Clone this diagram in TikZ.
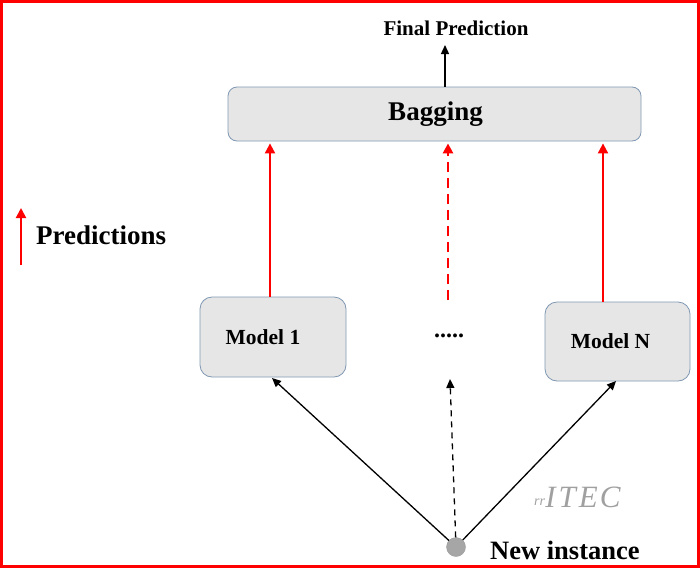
\documentclass[tikz,border=0pt]{standalone}
\usepackage{fontspec}
\setmainfont{Liberation Serif}
\usetikzlibrary{arrows.meta,calc}
\definecolor{boxfill}{HTML}{E7E6E6}
\definecolor{boxline}{HTML}{7F97B2}
\definecolor{dotgrey}{HTML}{A6A6A6}
\definecolor{wmgrey}{HTML}{A0A0A0}
\tikzset{
  modelbox/.style={draw=boxline, fill=boxfill, line width=0.8pt, rounded corners=12pt, font=\bfseries\fontsize{21.5}{25}\selectfont},
  predarrow/.style={draw=red, line width=2pt, -{Triangle[width=10pt,length=10pt]}},
  inarrow/.style={draw=black, line width=1.3pt, -{Triangle[width=8pt,length=9pt]}},
  bigtext/.style={font=\bfseries\fontsize{27}{30}\selectfont},
}
\begin{document}
\begin{tikzpicture}[x=1pt,y=-1pt]
\useasboundingbox (0,0) rectangle (700,568);
\draw[red, line width=2.5pt] (1.25,1.25) rectangle (698.5,566.5);

% boxes
\node[modelbox, rounded corners=9pt, minimum width=413pt, minimum height=54pt, inner sep=0pt, font=\bfseries\fontsize{27}{30}\selectfont] (bag) at (434.5,114) {\kern2pt Bagging};
\node[modelbox, minimum width=146pt, minimum height=80pt, inner sep=0pt] (m1) at (273,337) {Model 1\kern20pt};
\node[modelbox, minimum width=145pt, minimum height=79pt, inner sep=0pt] (mN) at (617.5,341.5) {Model N\kern14pt};
\node[font=\bfseries\fontsize{24}{25}\selectfont, inner sep=0pt] (dots) at (449,336) {.....};

% final prediction
\node[font=\bfseries\fontsize{21}{24}\selectfont, inner sep=0pt] (fp) at (456,28) {Final Prediction};
\coordinate (fpx) at (445,45);
\draw[inarrow] (bag.north -| fpx) -- (fpx);

% prediction arrows
\coordinate (p1) at (270,297);
\coordinate (p2) at (448,300);
\coordinate (p3) at (603,302);
\draw[predarrow, shorten >=2pt] (p1) -- (bag.south -| p1);
\draw[predarrow, line width=2.5pt, dash pattern=on 10pt off 6pt, shorten >=2pt] (p2) -- (bag.south -| p2);
\draw[predarrow, shorten >=2pt] (p3) -- (bag.south -| p3);

% new instance
\node[circle, fill=dotgrey, draw=gray!80, line width=0.4pt, minimum size=19pt, inner sep=0pt] (ni) at (456,547) {};
\node[anchor=west, inner sep=0pt, font=\bfseries\fontsize{26.5}{30}\selectfont] (nit) at (490,550) {New instance};
\coordinate (dtop) at (450,379);
\draw[inarrow] (ni) -- (272,378);
\draw[inarrow] (ni) -- (616,381);
\draw[inarrow, dash pattern=on 6pt off 5pt] (ni) -- (dtop);

% legend
\coordinate (lg1) at (21,265);
\coordinate (lg2) at (21,208);
\draw[predarrow] (lg1) -- (lg2);
\node[bigtext, anchor=west, inner sep=0pt] (legend) at (36,235) {Predictions};

% watermark
\node[text=wmgrey, font=\itshape\fontsize{31}{32}\selectfont, inner sep=0pt] (wm) at (583,497) {I\kern3pt T\kern3pt E\kern2pt C};
\node[text=wmgrey, font=\itshape\fontsize{14}{14}\selectfont, anchor=east, inner sep=1pt] (wmp) at ($(wm.west)+(1,5)$) {rr};
\end{tikzpicture}
\end{document}
